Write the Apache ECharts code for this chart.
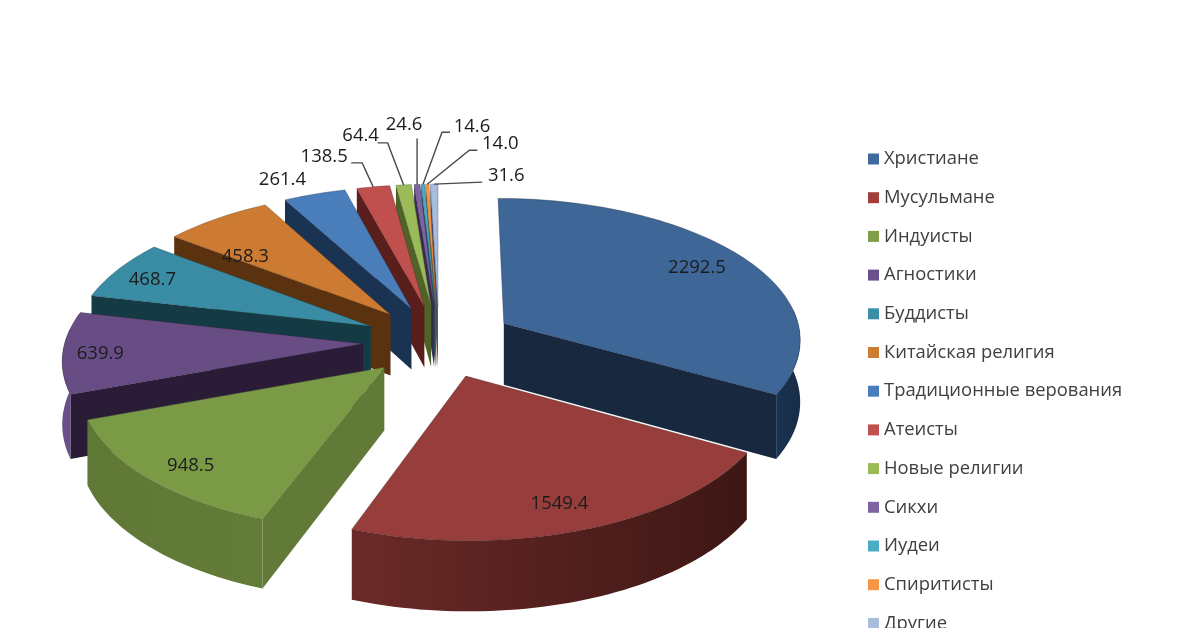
<!DOCTYPE html>
<html><head><meta charset="utf-8">
<style>html,body{margin:0;padding:0;background:#fff}#c{width:1200px;height:628px}</style>
<script src="https://cdn.jsdelivr.net/npm/echarts@6/dist/echarts.min.js"></script>
</head><body><div id="c"></div>
<script>
const categories = ['Христиане','Мусульмане','Индуисты','Агностики','Буддисты','Китайская религия','Традиционные верования','Атеисты','Новые религии','Сикхи','Иудеи','Спиритисты','Другие'];
const values = [2292.5,1549.4,948.5,639.9,468.7,458.3,261.4,138.5,64.4,24.6,14.6,14.0,31.6];
const valueLabels = ['2292.5','1549.4','948.5','639.9','468.7','458.3','261.4','138.5','64.4','24.6','14.6','14.0','31.6'];

const topColors = ['#3E6696','#973E3C','#7A9A46','#684D84','#3A8CA5','#CD7A33','#4A7EBB','#C0504D','#9BBB59','#8064A2','#4BACC6','#F79646','#A8BDDC'];
const legendColors = ['#3E6AA0','#A23F3D','#7F9E47','#69508C','#3A8FA8','#CF7C33','#4A7EBB','#C0504D','#9BBB59','#8064A2','#4BACC6','#F79646','#A8BDDC'];
const cutColors = ['#17283F','#3D1715','#617A37','#2A1C37','#143A44','#5A3210','#1A3353','#5A1E1C','#4F6228','#3A2A50','#1E5563','#8A5020','#3A4E70'];
const outerColors = [['#1A3350','#182C46'],['#6B2A28','#3D1715'],['#5F7836','#637C38'],['#6A4F8A','#6A4F8A'],['#143A44','#143A44'],['#5A3210','#5A3210'],['#1A3353','#1A3353'],['#5A1E1C','#5A1E1C'],['#4F6228','#4F6228'],['#3A2A50','#3A2A50'],['#1E5563','#1E5563'],['#8A5020','#8A5020'],['#3A4E70','#3A4E70']];

// label placement: inner labels as fraction of radius and angle shift from the slice bisector,
// outer labels as offsets from the slice's rim midpoint, with an optional leader line
const innerLabelRadius = [0.81,0.84,0.86,0.875,0.85,0.69];
const innerLabelAngle = [-1,1,-2,-1,-1,-9];
const outerLabelPlace = {
  6:{dx:-32,dy:-14},
  7:{dx:-49,dy:-30,leader:[[-11,-24],[-22,-24]]},
  8:{dx:-43,dy:-49,leader:[[-16,-42],[-26,-42]]},
  9:{dx:-13,dy:-60,leader:[[0,-46]]},
  10:{dx:49,dy:-58,leader:[[19,-52],[27,-52]]},
  11:{dx:73,dy:-40,leader:[[42,-34],[50,-34]]},
  12:{dx:72,dy:-8,leader:[[48,-2]]}
};

const CX=439, CY=341.5, RX=298, RY=141, PERSP=0.099, DEPTH=62, EXPLODE=0.255;
const FONT='"Open Sans","Noto Sans",sans-serif';
const rad = d => d*Math.PI/180;
const total = values.reduce((a,b)=>a+b,0);
let acc=0;
const slices = values.map((v,i)=>{
  const s=acc/total*360; acc+=v; const e=acc/total*360; const m=(s+e)/2;
  return {i,s,e,m,ox:EXPLODE*Math.sin(rad(m)),oy:-EXPLODE*Math.cos(rad(m))};
});
const depthRank = {};
slices.slice().sort((a,b)=>a.oy-b.oy).forEach((sl,r)=>{depthRank[sl.i]=r;});

function proj(X,Y,down){
  const k=1/(1-PERSP*Y);
  return [CX+RX*X*k, CY+(RY*Y+(down?DEPTH:0))*k];
}
function rimPoint(sl,deg,r,down){
  return proj(sl.ox+r*Math.sin(rad(deg)), sl.oy-r*Math.cos(rad(deg)), down);
}
function arc(sl,a,b,r,down){
  const n=Math.max(2,Math.ceil((b-a)/1.5)); const out=[];
  for(let k=0;k<=n;k++) out.push(rimPoint(sl,a+(b-a)*k/n,r,down));
  return out;
}
function renderSlice(params,api){
  const sl=slices[params.seriesIndex]; const kids=[];
  const apexT=proj(sl.ox,sl.oy,false), apexB=proj(sl.ox,sl.oy,true);
  const wall=(deg)=>({type:'polygon',shape:{points:[apexT,rimPoint(sl,deg,1,false),rimPoint(sl,deg,1,true),apexB]},style:{fill:cutColors[sl.i]},silent:true});
  if(Math.sin(rad(sl.s))<-1e-6) kids.push(wall(sl.s));
  if(Math.sin(rad(sl.e))>1e-6) kids.push(wall(sl.e));
  const a=Math.max(sl.s,84), b=Math.min(sl.e,276);
  if(b>a){
    const t=arc(sl,a,b,1,false), u=arc(sl,a,b,1,true).reverse();
    const oc=outerColors[sl.i];
    kids.push({type:'polygon',shape:{points:t.concat(u)},style:{fill:new echarts.graphic.LinearGradient(1,0,0,0,[{offset:0,color:oc[1]},{offset:1,color:oc[0]}])},silent:true});
  }
  const topPts=[apexT].concat(arc(sl,sl.s,sl.e,1,false));
  kids.push({type:'polygon',shape:{points:topPts},style:{fill:topColors[sl.i],stroke:cutColors[sl.i],lineWidth:0.6,strokeOpacity:0.6},silent:true});

  const text=valueLabels[api.value(0)];
  let lx,ly;
  if(sl.i<innerLabelRadius.length){
    [lx,ly]=rimPoint(sl,sl.m+innerLabelAngle[sl.i],innerLabelRadius[sl.i],false);
  } else {
    const anchor=rimPoint(sl,sl.m,1,false); const pl=outerLabelPlace[sl.i];
    lx=anchor[0]+pl.dx; ly=anchor[1]+pl.dy;
    if(pl.leader){
      const pts=[[anchor[0],anchor[1]]].concat(pl.leader.map(q=>[anchor[0]+q[0],anchor[1]+q[1]]));
      kids.push({type:'polyline',shape:{points:pts},style:{stroke:'#4a4a4a',lineWidth:1.4,fill:null},silent:true});
    }
  }
  kids.push({type:'text',x:lx,y:ly,z2:50,silent:true,style:{text,font:'18.5px '+FONT,fill:'#1c1c1c',align:'center',verticalAlign:'middle'}});
  return {type:'group',children:kids};
}
const chart=echarts.init(document.getElementById('c'),null,{renderer:'canvas'});
chart.setOption({
  animation:false,
  backgroundColor:'#fff',
  legend:{
    orient:'vertical',left:868,top:150,height:640,padding:0,
    icon:'rect',itemWidth:11,itemHeight:11,itemGap:20.7,
    data:categories,selectedMode:false,
    textStyle:{fontFamily:FONT,fontSize:18.4,color:'#404040'}
  },
  series:categories.map((name,i)=>({
    type:'custom',name,coordinateSystem:'none',z:2+depthRank[i],
    itemStyle:{color:legendColors[i]},
    data:[[i,values[i]]],
    encode:{value:1},
    renderItem:renderSlice
  }))
});
</script></body></html>
